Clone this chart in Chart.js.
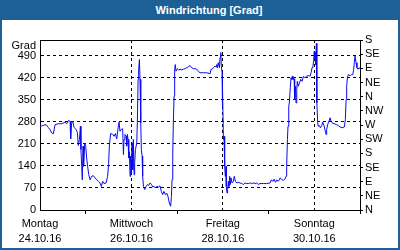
<!DOCTYPE html>
<html>
<head>
<meta charset="utf-8">
<script src="https://cdn.jsdelivr.net/npm/chart.js@4/dist/chart.umd.min.js"></script>
<style>
  html, body { margin: 0; padding: 0; background: #fff; }
  #wrap { position: relative; width: 400px; height: 250px; overflow: hidden; background: #fff; }
  #c { position: absolute; left: 0; top: 0; }
  #title { position: absolute; left: 0; top: 0; width: 400px; height: 20px; background: #1c6095;
           color: #fff; font: bold 11px "Liberation Sans", Arial, sans-serif; line-height: 20px;
           text-align: center; padding-left: 18px; box-sizing: border-box; }
  #frame { position: absolute; left: 0; top: 0; width: 400px; height: 250px; box-sizing: border-box;
           border: 2px solid #1c6095; pointer-events: none; }
</style>
</head>
<body>
<div id="wrap">
  <canvas id="c" width="400" height="250"></canvas>
  <div id="title">Windrichtung [Grad]</div>
  <div id="frame"></div>
</div>
<script>
// hours since Montag 24.10.16 00:00
const hours = [
  0,1.2,3.2,4.4,5.3,6.1,7.0,7.9,9.6,11.4,13.1,14.0,15.0,15.8,16.1,16.6,17.2,17.9,18.9,19.6,20.1,20.7,21.2,21.5,21.9,22.2,22.6,22.9,23.5,24.0,24.5,25.0,25.6,26.3,27.1,28.0,28.9,29.8,30.6,31.5,32.2,32.9,33.6,34.7,35.5,36.0,36.4,37.1,38.2,38.9,39.6,40.3,41.0,41.5,
  42.0,42.7,43.4,43.8,44.1,44.6,45.2,45.5,45.9,46.2,46.6,46.9,47.3,47.6,48.0,48.3,48.7,49.0,49.4,49.7,50.1,50.8,51.1,51.5,51.8,52.2,52.5,52.9,53.2,53.6,53.9,54.3,55.0,55.7,56.4,57.1,57.8,58.5,59.2,59.9,60.6,61.3,62.3,63.0,63.7,64.4,65.1,65.8,66.5,67.2,67.9,68.6,69.0,69.3,69.7,70.0,70.4,70.7,71.0,71.4,72.1,72.8,73.5,74.4,75.3,76.1,77.0,77.9,78.8,79.6,80.5,81.4,82.3,83.1,
  84.0,85.8,87.5,89.3,89.8,90.3,91.0,91.9,92.4,92.8,93.1,93.6,94.2,94.5,94.9,95.2,95.6,95.7,95.9,96.3,96.6,96.8,97.1,97.3,97.7,97.8,98.2,98.5,98.9,99.2,99.6,99.9,100.3,100.8,101.5,102.0,102.6,103.3,104.1,105.0,105.9,106.8,107.6,108.5,109.4,110.3,111.1,112.0,112.9,113.8,114.6,115.5,117.3,119.0,120.8,121.5,122.2,122.9,123.6,124.3,125.0,125.7,
  126.0,126.9,127.8,128.6,129.2,129.5,129.9,130.2,130.6,130.9,131.4,131.8,132.1,132.5,132.8,133.4,133.7,134.1,134.4,134.8,135.1,135.6,136.2,136.9,137.6,138.3,139.1,140.0,140.9,141.8,142.3,142.8,143.3,143.7,144.0,144.2,144.6,144.7,145.1,145.3,145.4,145.8,146.1,146.7,147.2,147.9,148.4,149.1,149.8,150.2,150.5,151.0,151.7,152.3,152.8,153.5,154.5,155.8,156.6,157.5,158.6,159.8,160.3,160.7,161.0,161.4,161.9,162.8,163.6,164.2,164.7,165.0,165.4,165.9,166.4,167.0,167.5,168.0
];
// wind direction in degrees
const degrees = [
  264,268,271,262,255,245,242,271,274,274,279,274,285,281,226,276,282,262,256,247,205,224,266,192,139,96,203,139,213,202,165,139,112,96,107,109,102,96,91,86,75,91,84,86,107,144,203,243,240,234,243,226,261,279,
  250,256,258,176,224,240,235,203,240,224,165,185,107,171,118,213,128,224,112,150,192,213,277,415,447,478,415,277,192,171,107,75,65,75,81,78,86,81,73,75,70,75,73,77,59,49,59,49,54,43,22,12,43,96,181,277,362,447,462,441,449,445,447,445,447,449,452,455,459,452,449,449,447,441,
  436,436,436,433,447,447,452,457,455,462,452,468,452,484,500,457,436,330,393,224,234,171,139,107,139,75,54,65,91,75,107,81,102,86,91,107,91,86,88,86,84,81,86,84,84,86,84,86,84,86,81,84,84,84,86,96,91,98,88,96,91,96,
  102,97,94,99,107,139,224,266,330,340,388,420,415,425,415,417,351,393,340,383,409,393,403,415,409,425,420,425,427,425,436,452,457,476,505,478,500,462,529,436,340,277,266,268,261,268,279,268,250,240,255,271,282,293,282,276,274,271,268,264,261,264,287,351,393,420,430,427,430,430,447,468,489,468,452,447,452,449
];
const leftTicks = [0, 70, 140, 210, 280, 350, 420, 490];
const compassTicks = [0, 45, 90, 135, 180, 225, 270, 315, 360, 405, 450, 495, 540];
const compassLabels = ['N','NE','E','SE','S','SW','W','NW','N','NE','E','SE','S'];
const dayTicks = [0, 24, 48, 72, 96, 120, 144, 168];
const dayLabels = {0: ['Montag','24.10.16'], 48: ['Mittwoch','26.10.16'], 96: ['Freitag','28.10.16'], 144: ['Sonntag','30.10.16']};
const majorDays = [48, 96, 144];
const minorDays = [24, 72, 120, 168];

const FONT = { family: '"Liberation Sans", Arial, sans-serif', size: 11 };
const points = hours.map((h, i) => ({ x: h, y: degrees[i] }));

const framePlugin = {
  id: 'frame',
  afterDraw(chart) {
    const { ctx, chartArea: a } = chart;
    ctx.save();
    ctx.strokeStyle = '#000';
    ctx.lineWidth = 1;
    ctx.beginPath();
    ctx.moveTo(a.left, a.top + 0.5);
    ctx.lineTo(a.right + 1, a.top + 0.5);
    ctx.stroke();
    ctx.fillStyle = '#000';
    ctx.font = '11px ' + FONT.family;
    ctx.textAlign = 'right';
    ctx.textBaseline = 'middle';
    ctx.fillText('Grad', a.left - 4, a.top + 6);
    ctx.restore();
  }
};

new Chart(document.getElementById('c'), {
  type: 'line',
  data: { datasets: [{ data: points, borderColor: '#0a0af0', borderWidth: 1, pointRadius: 0, tension: 0, fill: false }] },
  options: {
    responsive: false,
    devicePixelRatio: 1,
    animation: false,
    layout: { padding: { top: 40, left: 0, right: 0, bottom: 0 } },
    plugins: { legend: { display: false }, tooltip: { enabled: false }, title: { display: false } },
    scales: {
      x: {
        type: 'linear', min: 0, max: 168,
        afterBuildTicks: s => { s.ticks = dayTicks.map(v => ({ value: v })); },
        afterFit: s => { s.height = 40; },
        ticks: { autoSkip: false, maxRotation: 0, color: '#000', padding: 3,
                 font: Object.assign({ lineHeight: 1.35 }, FONT),
                 callback: v => dayLabels[v] || '' },
        grid: { color: c => (c.tick && majorDays.includes(c.tick.value)) ? '#000' : 'rgba(0,0,0,0)',
                tickColor: c => (c.tick && minorDays.includes(c.tick.value)) ? '#000' : 'rgba(0,0,0,0)',
                tickLength: 4, lineWidth: 1, tickBorderDash: [] },
        border: { display: true, color: '#000', width: 1, dash: [3, 3] }
      },
      y: {
        type: 'linear', position: 'left', min: 0, max: 540,
        afterBuildTicks: s => { s.ticks = leftTicks.map(v => ({ value: v })); },
        afterFit: s => { s.width = 40; },
        ticks: { autoSkip: false, color: '#000', padding: 4, font: FONT },
        grid: { color: c => (c.tick && c.tick.value > 0) ? '#000' : 'rgba(0,0,0,0)', drawTicks: false, lineWidth: 1 },
        border: { display: true, color: '#000', width: 1, dash: [3, 3] }
      },
      y2: {
        type: 'linear', position: 'right', min: 0, max: 540,
        afterBuildTicks: s => { s.ticks = compassTicks.map(v => ({ value: v })); },
        afterFit: s => { s.width = 40; },
        ticks: { autoSkip: false, color: '#000', padding: 2, font: FONT,
                 callback: (v) => compassLabels[compassTicks.indexOf(v)] },
        grid: { drawOnChartArea: false, drawTicks: true, tickLength: 3, tickColor: '#000' },
        border: { display: true, color: '#000', width: 1 }
      }
    }
  },
  plugins: [framePlugin]
});
</script>
</body>
</html>
